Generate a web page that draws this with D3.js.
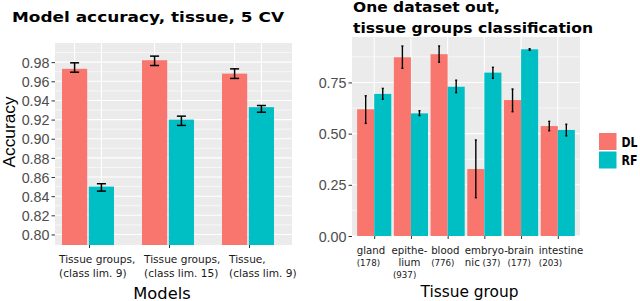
<!DOCTYPE html>
<html><head><meta charset="utf-8">
<script src="https://cdn.jsdelivr.net/npm/d3@7"></script>
<style>body{margin:0;background:#fff}svg{display:block}</style>
</head><body><svg id="c" width="640" height="301"></svg>
<script>
// ---------- data: left panel ----------
const modelGroups = ["tg9", "tg15", "t9"];
const modelLabels = [["Tissue groups,", "(class lim. 9)"], ["Tissue groups,", "(class lim. 15)"], ["Tissue,", "(class lim. 9)"]];
const methods = ["DL", "RF"];
const dlAcc = [0.973, 0.982, 0.968];
const dlAccLo = [0.9695, 0.9765, 0.963];
const dlAccHi = [0.9793, 0.9863, 0.973];
const rfAcc = [0.850, 0.920, 0.933];
const rfAccLo = [0.8453, 0.9139, 0.9277];
const rfAccHi = [0.8530, 0.9236, 0.9347];
const leftTicks = [0.80, 0.82, 0.84, 0.86, 0.88, 0.90, 0.92, 0.94, 0.96, 0.98];
const leftMinor = [0.81, 0.83, 0.85, 0.87, 0.89, 0.91, 0.93, 0.95, 0.97, 0.99];

// ---------- data: right panel ----------
const tissues = ["gland", "epithelium", "blood", "embryonic", "brain", "intestine"];
const tissueLabels = [[["gland"], ["(178)"]], [["epithe-"], ["lium"], ["(937)"]], [["blood"], ["(776)"]], [["embryo-"], ["nic", " (37)"]], [["brain"], ["(177)"]], [["intestine"], ["(203)"]]];
const dlTis = [0.619, 0.873, 0.888, 0.327, 0.664, 0.537];
const dlTisLo = [0.550, 0.819, 0.849, 0.187, 0.607, 0.514];
const dlTisHi = [0.685, 0.928, 0.928, 0.469, 0.718, 0.560];
const rfTis = [0.694, 0.599, 0.729, 0.798, 0.912, 0.518];
const rfTisLo = [0.668, 0.588, 0.700, 0.770, 0.907, 0.489];
const rfTisHi = [0.721, 0.612, 0.761, 0.824, 0.915, 0.546];
const rightTicks = [0.00, 0.25, 0.50, 0.75];
const rightMinor = [0.125, 0.375, 0.625, 0.875];

const colors = {DL: "#F8766D", RF: "#00BFC4"};
const svg = d3.select("#c");
const GRAY = "#4D4D4D";

function fitText(sel, w) { return sel.attr("textLength", w).attr("lengthAdjust", "spacingAndGlyphs"); }

// ================= LEFT PANEL =================
{
  const P = {l: 55, r: 292, t: 43, b: 245};
  const x = d3.scalePoint().domain(modelGroups).range([49, 289]).padding(0.5);
  const xs = d3.scaleBand().domain(methods).range([-27, 25]).paddingInner(0.06);
  const y = d3.scaleLinear().domain([0.789, 1.0]).range([P.b, P.t]);
  const g = svg.append("g");
  g.append("rect").attr("x", P.l).attr("y", P.t).attr("width", P.r - P.l).attr("height", P.b - P.t).attr("fill", "#EBEBEB");
  g.selectAll(".mn").data(leftMinor).join("line").attr("x1", P.l).attr("x2", P.r)
    .attr("y1", d => y(d)).attr("y2", d => y(d)).attr("stroke", "#fff").attr("stroke-width", 0.6);
  g.selectAll(".mj").data(leftTicks).join("line").attr("x1", P.l).attr("x2", P.r)
    .attr("y1", d => y(d)).attr("y2", d => y(d)).attr("stroke", "#fff").attr("stroke-width", 1.1);
  const vpos = [];
  modelGroups.forEach(gr => methods.forEach(m => vpos.push(x(gr) + xs(m) + xs.bandwidth() / 2)));
  g.selectAll(".vg").data(vpos).join("line").attr("x1", d => d).attr("x2", d => d)
    .attr("y1", P.t).attr("y2", P.b).attr("stroke", "#fff").attr("stroke-width", 1.1);

  const rows = [];
  modelGroups.forEach((gr, i) => {
    rows.push({g: gr, m: "DL", v: dlAcc[i], lo: dlAccLo[i], hi: dlAccHi[i]});
    rows.push({g: gr, m: "RF", v: rfAcc[i], lo: rfAccLo[i], hi: rfAccHi[i]});
  });
  g.selectAll(".bar").data(rows).join("rect")
    .attr("x", d => x(d.g) + xs(d.m)).attr("width", xs.bandwidth())
    .attr("y", d => y(d.v)).attr("height", d => P.b - y(d.v)).attr("fill", d => colors[d.m]);
  const eb = g.selectAll(".eb").data(rows).join("g").attr("stroke", "#000").attr("stroke-width", 1.5);
  const cx = d => x(d.g) + xs(d.m) + xs.bandwidth() / 2;
  eb.append("line").attr("x1", cx).attr("x2", cx).attr("y1", d => y(d.lo)).attr("y2", d => y(d.hi));
  eb.append("line").attr("x1", d => cx(d) - 4.5).attr("x2", d => cx(d) + 4.5).attr("y1", d => y(d.lo)).attr("y2", d => y(d.lo));
  eb.append("line").attr("x1", d => cx(d) - 4.5).attr("x2", d => cx(d) + 4.5).attr("y1", d => y(d.hi)).attr("y2", d => y(d.hi));

  const ya = g.append("g").attr("transform", `translate(${P.l},0)`)
    .call(d3.axisLeft(y).tickValues(leftTicks).tickFormat(d3.format(".2f")).tickSize(3.5).tickPadding(2));
  ya.select(".domain").remove();
  ya.selectAll(".tick line").attr("stroke", "#333").attr("stroke-width", 1);
  ya.selectAll(".tick text").attr("fill", GRAY).attr("font-family", "Liberation Sans, Arial, sans-serif").attr("font-size", 14.3).attr("dy", "0.36em");

  const xa = g.append("g").attr("transform", `translate(0,${P.b})`)
    .call(d3.axisBottom(x).tickSize(3).tickFormat(""));
  xa.select(".domain").remove();
  xa.selectAll(".tick line").attr("stroke", "#333");
  const shifts = [-30, -25, -20];
  modelGroups.forEach((gr, i) => {
    modelLabels[i].forEach((ln, j) => {
      g.append("text").attr("x", x(gr) + shifts[i]).attr("y", 262.5 + j * 14)
        .attr("font-family", "DejaVu Sans, sans-serif").attr("font-size", 10.6).attr("fill", "#1a1a1a").text(ln);
    });
  });
  g.append("text").attr("x", 162).attr("y", 298.5).attr("text-anchor", "middle")
    .attr("font-family", "DejaVu Sans, sans-serif").attr("font-size", 16.3).attr("fill", "#000").text("Models");
  g.append("text").attr("transform", `translate(14.5,${(P.t + P.b) / 2 - 12}) rotate(-90)`).attr("text-anchor", "middle")
    .attr("font-family", "Liberation Sans, Arial, sans-serif").attr("font-size", 17.3).attr("fill", "#000").text("Accuracy");
  fitText(g.append("text").attr("x", 12).attr("y", 21.5)
    .attr("font-family", "DejaVu Sans, sans-serif").attr("font-weight", "bold").attr("font-size", 14.5).attr("fill", "#000")
    .text("Model accuracy, tissue, 5 CV"), 272);
}

// ================= RIGHT PANEL =================
{
  const P = {l: 352, r: 580, t: 37, b: 236};
  const x = d3.scalePoint().domain(tissues).range([P.l, P.r]).padding(0.605);
  const step = x.step();
  const xs = d3.scaleBand().domain(methods).range([-step * 0.465, step * 0.465]).paddingInner(0.0);
  const y = d3.scaleLinear().domain([0, 0.972]).range([P.b, P.t]);
  const g = svg.append("g");
  g.append("rect").attr("x", P.l).attr("y", P.t).attr("width", P.r - P.l).attr("height", P.b - P.t).attr("fill", "#EBEBEB");
  g.selectAll(".mn").data(rightMinor).join("line").attr("x1", P.l).attr("x2", P.r)
    .attr("y1", d => y(d)).attr("y2", d => y(d)).attr("stroke", "#fff").attr("stroke-width", 0.6);
  g.selectAll(".mj").data(rightTicks).join("line").attr("x1", P.l).attr("x2", P.r)
    .attr("y1", d => y(d)).attr("y2", d => y(d)).attr("stroke", "#fff").attr("stroke-width", 1.1);
  g.selectAll(".vg").data(tissues).join("line").attr("x1", d => x(d)).attr("x2", d => x(d))
    .attr("y1", P.t).attr("y2", P.b).attr("stroke", "#fff").attr("stroke-width", 1.1);

  const rows = [];
  tissues.forEach((t, i) => {
    rows.push({g: t, m: "DL", v: dlTis[i], lo: dlTisLo[i], hi: dlTisHi[i]});
    rows.push({g: t, m: "RF", v: rfTis[i], lo: rfTisLo[i], hi: rfTisHi[i]});
  });
  g.selectAll(".bar").data(rows).join("rect")
    .attr("x", d => x(d.g) + xs(d.m)).attr("width", xs.bandwidth())
    .attr("y", d => y(d.v)).attr("height", d => P.b - y(d.v)).attr("fill", d => colors[d.m]);
  const cx = d => x(d.g) + xs(d.m) + xs.bandwidth() / 2;
  const eb = g.selectAll(".eb").data(rows).join("g").attr("stroke", "#000").attr("stroke-width", 1.4);
  eb.append("line").attr("x1", cx).attr("x2", cx).attr("y1", d => y(d.lo)).attr("y2", d => y(d.hi));
  eb.append("line").attr("x1", d => cx(d) - 1).attr("x2", d => cx(d) + 1).attr("y1", d => y(d.lo)).attr("y2", d => y(d.lo));
  eb.append("line").attr("x1", d => cx(d) - 1).attr("x2", d => cx(d) + 1).attr("y1", d => y(d.hi)).attr("y2", d => y(d.hi));

  const ya = g.append("g").attr("transform", `translate(${P.l},0)`)
    .call(d3.axisLeft(y).tickValues(rightTicks).tickFormat(d3.format(".2f")).tickSize(3.5).tickPadding(2));
  ya.select(".domain").remove();
  ya.selectAll(".tick line").attr("stroke", "#333");
  ya.selectAll(".tick text").attr("fill", GRAY).attr("font-family", "Liberation Sans, Arial, sans-serif").attr("font-size", 14.3).attr("dy", "0.36em");
  const xa = g.append("g").attr("transform", `translate(0,${P.b})`)
    .call(d3.axisBottom(x).tickSize(3).tickFormat(""));
  xa.select(".domain").remove();
  xa.selectAll(".tick line").attr("stroke", "#333");

  const lineY = [253.5, 265.5, 278];
  const lshift = [-17.5, -19.5, -16.5, -19.5, -13.5, -19];
  tissues.forEach((t, i) => {
    tissueLabels[i].forEach((parts, j) => {
      const tx = g.append("text").attr("x", x(t) + lshift[i] + (t === "epithelium" && j === 1 ? 7 : 0) + (t === "epithelium" && j === 2 ? 1.5 : 0))
        .attr("y", lineY[j]).attr("font-family", "DejaVu Sans, sans-serif").attr("fill", "#1a1a1a");
      parts.forEach(p => {
        const small = p.trim().startsWith("(");
        tx.append("tspan").attr("font-size", small ? 8.7 : 10.2).text(p);
      });
    });
  });
  g.append("text").attr("x", 469.5).attr("y", 296.5).attr("text-anchor", "middle")
    .attr("font-family", "DejaVu Sans, sans-serif").attr("font-size", 15.4).attr("fill", "#000").text("Tissue group");
  fitText(g.append("text").attr("x", 353).attr("y", 12)
    .attr("font-family", "DejaVu Sans, sans-serif").attr("font-weight", "bold").attr("font-size", 14.5).attr("fill", "#000")
    .text("One dataset out,"), 147);
  fitText(g.append("text").attr("x", 353).attr("y", 33.3)
    .attr("font-family", "DejaVu Sans, sans-serif").attr("font-weight", "bold").attr("font-size", 14.5).attr("fill", "#000")
    .text("tissue groups classification"), 240);

  // legend
  const lg = svg.append("g").attr("transform", "translate(599,133)");
  methods.forEach((m, i) => {
    lg.append("rect").attr("x", 0).attr("y", i * 18.5).attr("width", 17.5).attr("height", 17).attr("fill", colors[m]);
    fitText(lg.append("text").attr("x", 22.5).attr("y", i * 18.5 + 13.5).attr("font-family", "DejaVu Sans, sans-serif")
      .attr("font-weight", "bold").attr("font-size", 13.5).attr("fill", "#000").text(m), 16);
  });
}
</script></body></html>
